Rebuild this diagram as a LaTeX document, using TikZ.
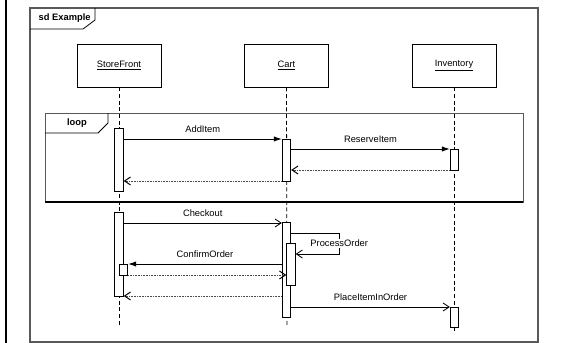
\documentclass[tikz,border=0pt]{standalone}
\usepackage{fontspec}
\setmainfont{Liberation Sans}
\usetikzlibrary{arrows.meta, positioning, calc}

\begin{document}
\begin{tikzpicture}[
    x=0.75pt, y=-0.75pt,
    headbox/.style={draw, line width=0.7pt, minimum width=63pt, minimum height=32.25pt, inner sep=0pt, font=\fontsize{7}{8}\selectfont},
    actbox/.style={draw, fill=white, inner sep=0pt, minimum width=6.5pt, line width=0.6pt},
    lifeline/.style={dash pattern=on 3pt off 2pt, line width=0.6pt},
    framebox/.style={draw=black!65, line width=0.8pt},
    tabtitle/.style={font=\bfseries\fontsize{7}{8}\selectfont},
    msglabel/.style={font=\fontsize{7}{8}\selectfont, anchor=base, yshift=5pt},
    call/.style={-{Latex[length=6pt, width=4pt]}, line width=0.6pt},
    async/.style={-{Straight Barb[length=4.5pt, width=6pt]}, line width=0.6pt},
    reply/.style={-{Straight Barb[length=4.5pt, width=6pt, color=black]}, dash pattern=on 0.6pt off 0.6pt, draw=black!70, line width=0.7pt}
]
\useasboundingbox (0,0) rectangle (562,343);

% Outer frame
\draw[line width=1.5pt] (6,0) -- (6,343);
\draw[framebox] (30,8) rectangle (538,342);
\draw[line width=0.6pt] (30,29) -- (83,29) -- (95,20) -- (95,8);
\node[tabtitle, anchor=west] (sd_title) at (34,18.5) {sd Example};

% Lifeline heads
\node[headbox] (sf) at (119,65.5) {\underline{StoreFront}};
\node[headbox] (ca) at (286.5,65.5) {\underline{Cart}};
\node[headbox] (inv) at (454,65.5) {\underline{Inventory}};

\coordinate (sf_end) at (119,325);
\coordinate (ca_end) at (287,326);
\coordinate (inv_end) at (454,332);
\foreach \n in {sf, ca, inv} {
    \draw[lifeline] (\n.south) -- (\n_end);
}

% Loop fragment
\draw[framebox, line width=0.6pt] (45,113) rectangle (523,202);
\draw[line width=1.5pt] (45,202) -- (523,202);
\draw[line width=0.6pt] (45,133) -- (98,133) -- (108,123) -- (108,113);
\node[tabtitle] (loop_title) at (77,123) {loop};

% Activation bars
\foreach \n/\x/\t/\b in {sf1/119/128/191, ca1/286.5/139/181, in1/454.5/149/170,
                         sf2/119/212/296, sf3/123.5/264/275,
                         ca2/286.5/222/317, ca3/291/243/285, in2/454.5/307/327} {
    \node[actbox, anchor=north, minimum height={(\b-\t)*0.75pt}] (\n) at (\x,\t) {};
}

% Message levels
\foreach \n/\y in {add/139, reserve/149, rback/170, aback/181,
                   check/223, proc/233, procback/254, confirm/264,
                   cback/275, chback/296, place/307} {
    \coordinate (y_\n) at (0,\y);
}

% Messages inside the loop
\draw[call] (sf1.east |- y_add) -- (ca1.west |- y_add) node[midway, msglabel] {AddItem};
\draw[call] (ca1.east |- y_reserve) -- (in1.west |- y_reserve) node[midway, msglabel] {ReserveItem};
\draw[reply] (in1.west |- y_rback) -- (ca1.east |- y_rback);
\draw[reply] (ca1.west |- y_aback) -- (sf1.east |- y_aback);

% Messages after the loop
\draw[async] (sf2.east |- y_check) -- (ca2.west |- y_check) node[midway, msglabel] {Checkout};
\draw[async] (ca2.east |- y_proc) -- ++(48,0) |- (ca3.east |- y_procback)
    node[pos=0.25, fill=white, inner sep=0.5pt, font=\fontsize{7}{8}\selectfont] {ProcessOrder};
\draw[call] (ca2.west |- y_confirm) -- (sf3.east |- y_confirm) node[midway, msglabel] {ConfirmOrder};
\draw[reply] (sf3.east |- y_cback) -- (ca3.west |- y_cback);
\draw[reply] (ca2.west |- y_chback) -- (sf2.east |- y_chback);
\draw[async] (ca2.east |- y_place) -- (in2.west |- y_place) node[midway, msglabel] {PlaceItemInOrder};

\end{tikzpicture}
\end{document}
